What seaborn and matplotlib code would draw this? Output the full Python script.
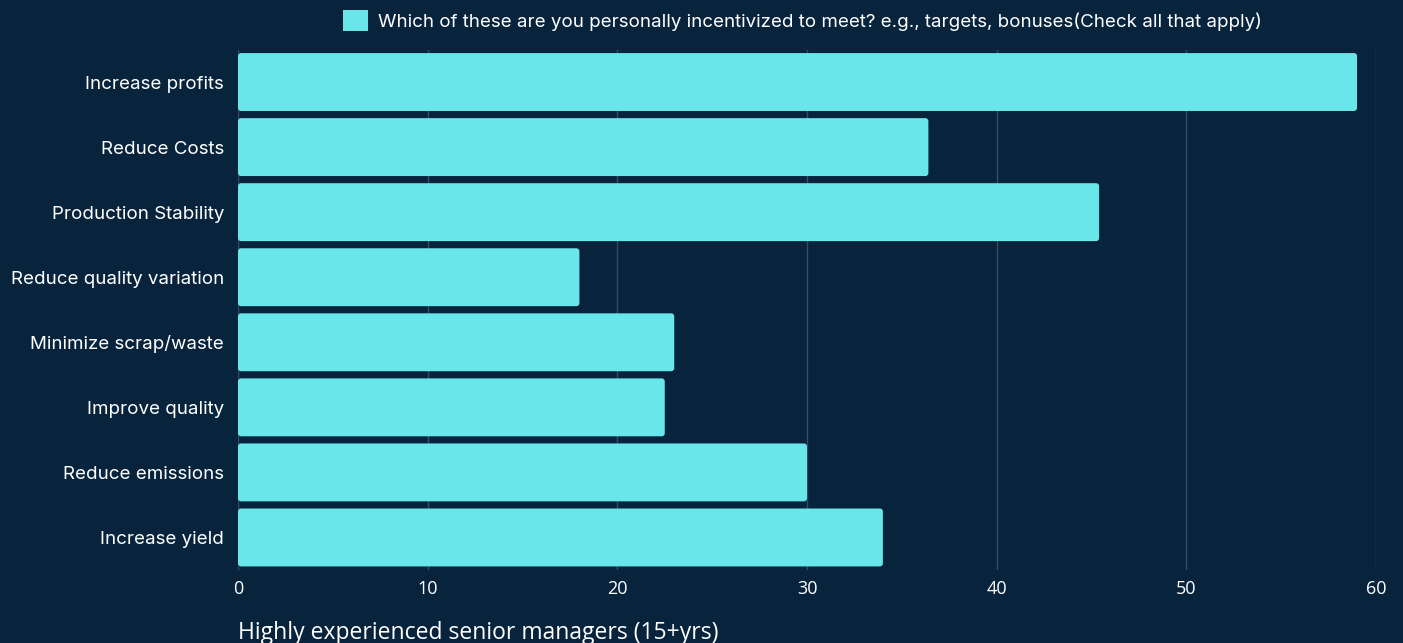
import matplotlib
matplotlib.use("Agg")
import matplotlib.pyplot as plt
from matplotlib.patches import FancyBboxPatch, Patch
import seaborn as sns
import pandas as pd

categories = [
    "Increase profits",
    "Reduce Costs",
    "Production Stability",
    "Reduce quality variation",
    "Minimize scrap/waste",
    "Improve quality",
    "Reduce emissions",
    "Increase yield",
]
values = [59, 36.4, 45.4, 18, 23, 22.5, 30, 34]
x_ticks = [0, 10, 20, 30, 40, 50, 60]
series_name = "Which of these are you personally incentivized to meet? e.g., targets, bonuses(Check all that apply)"
x_title = "Highly experienced senior managers (15+yrs)"

BG = "#08243d"
BAR = "#69e6ea"
GRID = "#334d66"
TEXT = "#ffffff"

sns.set_theme(style="dark")
plt.rcParams["font.family"] = ["Inter", "DejaVu Sans"]

df = pd.DataFrame({"category": categories, "value": values})

fig = plt.figure(figsize=(14.03, 6.43), dpi=100, facecolor=BG)
ax = fig.add_axes([238 / 1403, 1 - 570 / 643, (1376 - 238) / 1403, (570 - 49.5) / 643])
ax.set_facecolor(BG)

sns.barplot(data=df, x="value", y="category", color=BAR, saturation=1,
            width=0.89, ax=ax, zorder=3)

# swap the square bars for ones with softly rounded corners (~3 px)
x_px = ax.get_position().width * fig.get_figwidth() * fig.dpi / 60.0
y_px = ax.get_position().height * fig.get_figheight() * fig.dpi / len(categories)
r_x = 3.0 / x_px
r_y = 3.0 / y_px
for p in list(ax.patches):
    x0, y0 = p.get_x(), p.get_y()
    w, h = p.get_width(), p.get_height()
    rb = FancyBboxPatch((x0, y0), w, h,
                        boxstyle=f"round,pad=0,rounding_size={r_x}",
                        mutation_aspect=r_y / r_x,
                        facecolor=BAR, edgecolor="none", zorder=3)
    p.remove()
    ax.add_patch(rb)

ax.set_xlim(0, 60)
ax.set_xticks(x_ticks)
ax.set_xticklabels([str(t) for t in x_ticks], family=["Open Sans", "DejaVu Sans"])
ax.grid(axis="x", color=GRID, linewidth=1, zorder=0)
ax.grid(axis="y", visible=False)
for s in ax.spines.values():
    s.set_visible(False)

ax.tick_params(axis="x", colors=TEXT, labelsize=13, length=0, pad=7)
ax.tick_params(axis="y", colors=TEXT, labelsize=13.5, length=0, pad=10)
ax.set_ylabel("")
ax.set_xlabel(x_title, color=TEXT, fontsize=16.5, loc="left", labelpad=17,
              family=["Open Sans", "DejaVu Sans"])

handle = Patch(facecolor=BAR, edgecolor="none")
fig.legend([handle], [series_name], loc="upper center",
           bbox_to_anchor=(0.572, 1.01), frameon=False, fontsize=13.5,
           labelcolor=TEXT, handlelength=1.3, handleheight=1.3, handletextpad=0.55)

fig.savefig("out.png", dpi=100, facecolor=BG)
